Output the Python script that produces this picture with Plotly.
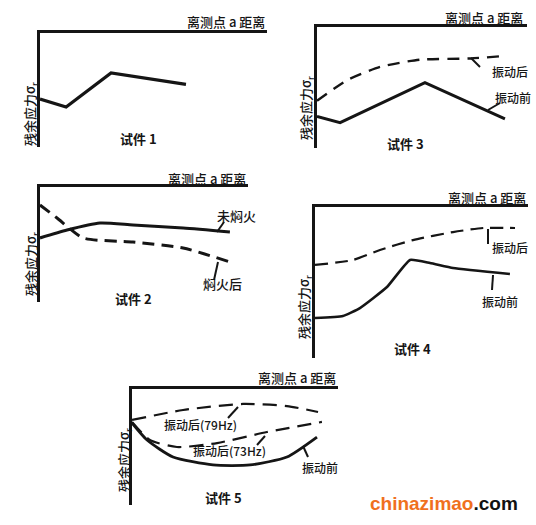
"""Five sketch panels: residual stress vs distance from point a (specimens 1-5)."""

import plotly.graph_objects as go

W, H = 536, 525

# Panel data, x and y in relative units (0-10 on both axes)
S1_X = [0.0, 1.15, 3.13, 6.43]
S1_Y = [4.2, 3.5, 6.5, 5.5]

S2_BEFORE_X = [0.0, 1.3, 2.88, 4.47, 6.88, 9.13]
S2_BEFORE_Y = [5.57, 6.26, 6.87, 6.7, 6.43, 6.09]
S2_AFTER_X = [0.0, 0.82, 2.07, 4.47, 6.88, 9.13]
S2_AFTER_Y = [8.43, 7.3, 5.57, 5.22, 4.7, 3.48]

S3_AFTER_X = [0.0, 1.43, 3.0, 4.9, 7.3, 8.9]
S3_AFTER_Y = [3.9, 5.6, 6.7, 7.3, 7.4, 7.6]
S3_BEFORE_X = [0.0, 1.1, 5.14, 8.95]
S3_BEFORE_Y = [2.6, 2.1, 5.4, 2.4]

S4_AFTER_X = [0.0, 1.78, 3.05, 4.6, 6.48, 7.89, 9.39]
S4_AFTER_Y = [6.16, 6.49, 7.15, 7.81, 8.34, 8.61, 8.61]
S4_BEFORE_X = [0.0, 1.31, 2.11, 3.38, 4.46, 5.4, 6.48, 9.15]
S4_BEFORE_Y = [2.65, 2.78, 3.31, 4.7, 6.49, 6.29, 5.96, 5.56]

S5_79_X = [0.0, 2.48, 5.39, 7.52, 9.03]
S5_79_Y = [7.33, 8.19, 8.71, 8.53, 8.02]
S5_73_X = [0.0, 0.87, 2.18, 4.13, 6.55, 9.22]
S5_73_Y = [7.16, 5.6, 5.0, 5.34, 6.29, 7.16]
S5_BEFORE_X = [0.0, 0.73, 1.99, 3.93, 5.73, 7.52, 8.98]
S5_BEFORE_Y = [7.07, 5.6, 4.14, 3.45, 3.45, 4.14, 5.86]

AXIS_TITLE = "离测点 a 距离"
Y_TITLE = "残余应力σ<sub>r</sub>"

# panel boxes in pixels: left, right, top, bottom
BOXES = {
    1: (40, 267, 33, 147),
    2: (40, 248, 187, 302),
    3: (317, 527, 27, 148),
    4: (315, 528, 207, 358),
    5: (132, 338, 389, 505),
}

CJK = "Noto Sans CJK SC"
INK = "#151515"


def px(x, y):
    return x / W, 1 - y / H


fig = go.Figure()


def add_line(n, xs, ys, dash=None, width=3.0, smooth=0.6):
    line = {"color": INK, "width": width, "dash": dash or "solid"}
    if smooth:
        line.update(shape="spline", smoothing=smooth)
    fig.add_trace(
        go.Scatter(
            x=xs,
            y=ys,
            mode="lines",
            line=line,
            xaxis=f"x{n}" if n > 1 else "x",
            yaxis=f"y{n}" if n > 1 else "y",
            showlegend=False,
            hoverinfo="skip",
        )
    )


add_line(1, S1_X, S1_Y, width=3.2, smooth=0)
add_line(2, S2_BEFORE_X, S2_BEFORE_Y, width=3.0)
add_line(2, S2_AFTER_X, S2_AFTER_Y, dash="12px,7px", width=3.0)
add_line(3, S3_AFTER_X, S3_AFTER_Y, dash="12px,8px", width=2.4)
add_line(3, S3_BEFORE_X, S3_BEFORE_Y, width=3.0, smooth=0)
add_line(4, S4_AFTER_X, S4_AFTER_Y, dash="13px,7px", width=2.2)
add_line(4, S4_BEFORE_X, S4_BEFORE_Y, width=2.6, smooth=0.4)
add_line(5, S5_79_X, S5_79_Y, dash="14px,8px", width=2.2)
add_line(5, S5_73_X, S5_73_Y, dash="14px,8px", width=2.2)
add_line(5, S5_BEFORE_X, S5_BEFORE_Y, width=2.8)

layout = {}
for n, (x0, x1, y0, y1) in BOXES.items():
    suffix = "" if n == 1 else str(n)
    axis_common = {
        "range": [0, 10],
        "showline": True,
        "linecolor": INK,
        "linewidth": 2.5,
        "showgrid": False,
        "zeroline": False,
        "showticklabels": False,
        "ticks": "",
        "fixedrange": True,
    }
    layout[f"xaxis{suffix}"] = {
        **axis_common,
        "domain": [x0 / W, x1 / W],
        "side": "top",
        "anchor": f"y{suffix}",
    }
    layout[f"yaxis{suffix}"] = {
        **axis_common,
        "domain": [1 - y1 / H, 1 - y0 / H],
        "anchor": f"x{suffix}",
    }

annotations = []


def label(text, x, y, size=12, weight="normal", anchor="center", angle=0):
    ax, ay = px(x, y)
    annotations.append(
        {
            "text": text,
            "x": ax,
            "y": ay,
            "xref": "paper",
            "yref": "paper",
            "xanchor": anchor,
            "yanchor": "middle",
            "showarrow": False,
            "textangle": angle,
            "font": {"family": CJK, "size": size, "color": INK, "weight": weight},
        }
    )


# axis titles
label(AXIS_TITLE, 267, 22, size=13, weight=500, anchor="right")
label(AXIS_TITLE, 525, 17, size=13, weight=500, anchor="right")
label(AXIS_TITLE, 248, 178, size=13, weight=500, anchor="right")
label(AXIS_TITLE, 528, 197, size=13, weight=500, anchor="right")
label(AXIS_TITLE, 338, 377, size=13, weight=500, anchor="right")

for x, y in [(31, 114), (306, 108), (31, 264), (304, 307), (124, 460)]:
    label(Y_TITLE, x, y, size=13, weight=500, angle=-90)

# specimen names
label("试件 1", 138, 138, size=13, weight="bold")
label("试件 2", 133, 298, size=13, weight="bold")
label("试件 3", 405, 143, size=13, weight="bold")
label("试件 4", 412, 348, size=13, weight="bold")
label("试件 5", 223, 497, size=13, weight="bold")

# curve labels
label("未焖火", 236, 215, size=13, weight=500)
label("焖火后", 222, 283, size=13, weight=500)
label("振动后", 510, 71, size=12, weight=500)
label("振动前", 513, 97, size=12, weight=500)
label("振动后", 510, 247, size=12, weight=500)
label("振动前", 500, 301, size=12, weight=500)
label("振动后(79Hz)", 200, 424, size=12, weight=500)
label("振动后(73Hz)", 229, 450, size=12, weight=500)
label("振动前", 320, 467, size=12, weight=500)

# watermark
wx, wy = px(444, 503)
annotations.append(
    {
        "text": "<span style='color:#f0701e'>chinazimao</span>.com",
        "x": wx,
        "y": wy,
        "xref": "paper",
        "yref": "paper",
        "xanchor": "center",
        "yanchor": "middle",
        "showarrow": False,
        "font": {"family": "Liberation Sans", "size": 19, "color": "#111111", "weight": "bold"},
    }
)

# leader strokes from labels to curves
LEADERS = [
    (217, 232, 224, 222),
    (218, 262, 214, 280),
    (471, 58, 480, 67),
    (488, 110, 500, 103),
    (488, 229, 488, 244),
    (493, 275, 492, 290),
    (228, 418, 238, 407),
    (257, 445, 265, 436),
    (303, 446, 308, 457),
]
shapes = []
for x0, y0, x1, y1 in LEADERS:
    a0, b0 = px(x0, y0)
    a1, b1 = px(x1, y1)
    shapes.append(
        {
            "type": "line",
            "xref": "paper",
            "yref": "paper",
            "x0": a0,
            "y0": b0,
            "x1": a1,
            "y1": b1,
            "line": {"color": INK, "width": 2},
        }
    )

fig.update_layout(
    **layout,
    width=W,
    height=H,
    margin={"l": 0, "r": 0, "t": 0, "b": 0},
    paper_bgcolor="#ffffff",
    plot_bgcolor="#ffffff",
    annotations=annotations,
    shapes=shapes,
    showlegend=False,
)

fig.write_html(
    "out.html",
    config={"displayModeBar": False},
    post_script="document.body.style.margin = '0';",
)
